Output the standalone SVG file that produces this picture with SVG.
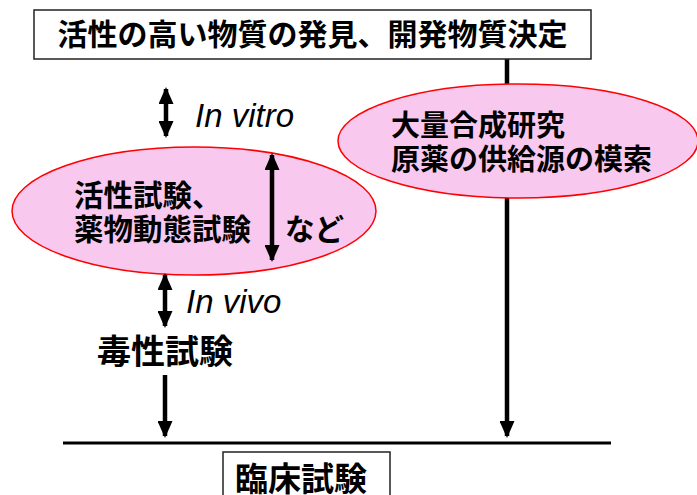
<svg xmlns="http://www.w3.org/2000/svg" width="697" height="495" viewBox="0 0 697 495">
<style>
.jp{font-family:"Noto Sans CJK JP","Noto Sans CJK SC",sans-serif;font-weight:bold;fill:#000}
.lat{font-family:"Liberation Sans",Arial,sans-serif;font-style:italic;fill:#000}
.box{fill:#fff;stroke:#222;stroke-width:1.5}
.ell{fill:#f8c8ef;stroke:#f00;stroke-width:1.5}
.arr{stroke:#000;stroke-width:4.5;fill:none}
.rule{stroke:#000;stroke-width:3}
</style>
<defs>
<marker id="ah" viewBox="0 0 17 15" refX="15" refY="7.5" markerWidth="17" markerHeight="15" markerUnits="userSpaceOnUse" orient="auto-start-reverse">
<path d="M0,0 L17,7.5 L0,15 Z" fill="#000"/>
</marker>
</defs>
<g id="connectors-back">
<line class="arr" x1="507" y1="59" x2="507" y2="436" marker-end="url(#ah)"/>
</g>
<g id="top">
<rect class="box" x="34" y="10" width="557" height="49"/>
<text class="jp" x="312.5" y="45" font-size="30" text-anchor="middle">活性の高い物質の発見、開発物質決定</text>
</g>
<g id="synthesis">
<ellipse class="ell" cx="518" cy="141" rx="180" ry="57"/>
<text class="jp" x="391" y="136" font-size="29">大量合成研究</text>
<text class="jp" x="391" y="170" font-size="29">原薬の供給源の模索</text>
</g>
<g id="activity">
<ellipse class="ell" cx="194" cy="211" rx="182" ry="64"/>
<text class="jp" x="74" y="206" font-size="29.5">活性試験、</text>
<text class="jp" x="74" y="240" font-size="29.5">薬物動態試験</text>
<text class="jp" x="285" y="240" font-size="29.5">など</text>
</g>
<g id="toxicity">
<text class="jp" x="97" y="364" font-size="34">毒性試験</text>
</g>
<g id="clinical">
<rect class="box" x="223" y="452" width="167" height="60"/>
<text class="jp" x="235" y="491" font-size="33">臨床試験</text>
</g>
<g id="connectors">
<line class="arr" x1="166" y1="89" x2="166" y2="136" marker-start="url(#ah)" marker-end="url(#ah)"/>
<text class="lat" x="195" y="127" font-size="33">In vitro</text>
<line class="arr" x1="272" y1="155" x2="272" y2="260" marker-start="url(#ah)" marker-end="url(#ah)"/>
<line class="arr" x1="165" y1="275" x2="165" y2="326" marker-start="url(#ah)" marker-end="url(#ah)"/>
<text class="lat" x="186" y="313" font-size="33">In vivo</text>
<line class="arr" x1="165" y1="375" x2="165" y2="436" marker-end="url(#ah)"/>
<line class="rule" x1="63" y1="443" x2="611" y2="443"/>
</g>
</svg>
